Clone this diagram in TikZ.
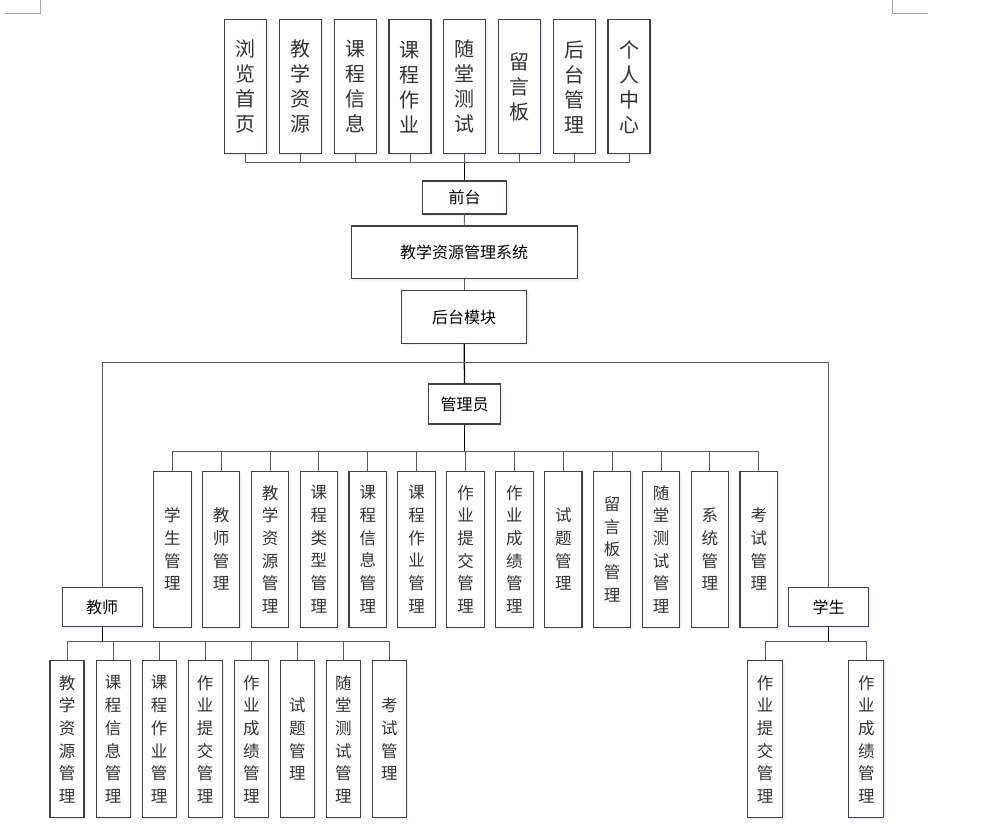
\documentclass[tikz,border=0pt]{standalone}
\usepackage{fontspec}
\setmainfont{Noto Sans CJK SC}
\usetikzlibrary{shadows}
\begin{document}
\begin{tikzpicture}[x=1pt,y=-1pt,
  box/.style={draw=black!75, line width=1.1pt, fill=white, inner sep=0pt, text=black!80,
    drop shadow={shadow xshift=2pt, shadow yshift=-2pt, fill=blue!6!white, opacity=1}},
  topbox/.style={box, minimum width=42pt, minimum height=134pt, anchor=north, align=center,
    font=\fontsize{20pt}{25pt}\selectfont},
  midbox/.style={box, minimum width=37.5pt, minimum height=156pt, anchor=north, align=center,
    font=\fontsize{16.5pt}{22.7pt}\selectfont},
  lowbox/.style={box, minimum width=34pt, minimum height=157pt, anchor=north, align=center,
    font=\fontsize{16.5pt}{22.7pt}\selectfont},
  hbox/.style={box, font=\fontsize{16pt}{19pt}\selectfont, text=black},
  conn/.style={draw=black!65, line width=0.9pt},
  trunk/.style={draw=black, line width=1.3pt},
  cornermark/.style={draw=black!35, line width=0.8pt}
]
\useasboundingbox (0,0) rectangle (992,827);
% page corner marks
\coordinate (cl1) at (40.3,0); \coordinate (cl2) at (5,13.3);
\coordinate (cr1) at (892.3,0); \coordinate (cr2) at (927.7,13.3);
\draw[cornermark] (cl1) |- (cl2);
\draw[cornermark] (cr1) |- (cr2);

% top row
\foreach \t [count=\i from 0] in {浏\\览\\首\\页,教\\学\\资\\源,课\\程\\信\\息,课\\程\\作\\业,随\\堂\\测\\试,留\\言\\板,后\\台\\管\\理,个\\人\\中\\心}
  \node[topbox] (t\i) at ({245.7+54.76*\i},19.3) {\t};

\node[hbox, minimum width=84.4pt, minimum height=33pt] (qt) at (464.5,197.5) {前台};
\node[hbox, minimum width=226.3pt, minimum height=52.7pt] (sys) at (464.2,252.3) {教学资源管理系统};
\node[hbox, minimum width=125pt, minimum height=52.6pt] (hm) at (464.2,317) {后台模块};
\node[hbox, minimum width=72.4pt, minimum height=40pt] (gly) at (464.5,404) {管理员};
\node[hbox, minimum width=79.7pt, minimum height=39.4pt] (js) at (102.2,607) {教师};
\node[hbox, minimum width=80pt, minimum height=39.4pt] (xs) at (828.7,607) {学生};

% admin row
\foreach \t [count=\i from 0] in {学\\生\\管\\理,教\\师\\管\\理,教\\学\\资\\源\\管\\理,课\\程\\类\\型\\管\\理,课\\程\\信\\息\\管\\理,课\\程\\作\\业\\管\\理,作\\业\\提\\交\\管\\理,作\\业\\成\\绩\\管\\理,试\\题\\管\\理,留\\言\\板\\管\\理,随\\堂\\测\\试\\管\\理,系\\统\\管\\理,考\\试\\管\\理}
  \node[midbox] (m\i) at ({172.3+48.87*\i},470.7) {\t};

% teacher row
\foreach \t [count=\i from 0] in {教\\学\\资\\源\\管\\理,课\\程\\信\\息\\管\\理,课\\程\\作\\业\\管\\理,作\\业\\提\\交\\管\\理,作\\业\\成\\绩\\管\\理,试\\题\\管\\理,随\\堂\\测\\试\\管\\理,考\\试\\管\\理}
  \node[lowbox] (b\i) at ({67+46.07*\i},660.3) {\t};

% student row
\node[lowbox, minimum width=35pt] (s0) at (765.2,660.3) {作\\业\\提\\交\\管\\理};
\node[lowbox, minimum width=35pt] (s1) at (866.3,660.3) {作\\业\\成\\绩\\管\\理};

% connectors
\coordinate (topbus) at (464.5,162.7);
\foreach \i in {0,...,7} \draw[conn] (t\i.south) |- (topbus);
\draw[trunk] (topbus) -- (qt.north);
\draw[conn] (qt.south) -- (sys.north);
\draw[conn] (sys.south) -- (hm.north);
\coordinate (hbus) at (464.5,362.7);
\draw[trunk] (hm.south) -- (gly.north);
\draw[conn] (hbus) -| (js.north);
\draw[conn] (hbus) -| (xs.north);

\coordinate (abus) at (464.5,451);
\foreach \i in {0,...,12} \draw[conn] (m\i.north) |- (abus);
\draw[trunk] (gly.south) -- (abus);

\coordinate (tbus) at (102.2,641);
\foreach \i in {0,...,7} \draw[conn] (b\i.north) |- (tbus);
\draw[trunk] (js.south) -- (tbus);

\coordinate (sbus) at (828.7,641);
\foreach \i in {0,1} \draw[conn] (s\i.north) |- (sbus);
\draw[trunk] (xs.south) -- (sbus);
\end{tikzpicture}
\end{document}
